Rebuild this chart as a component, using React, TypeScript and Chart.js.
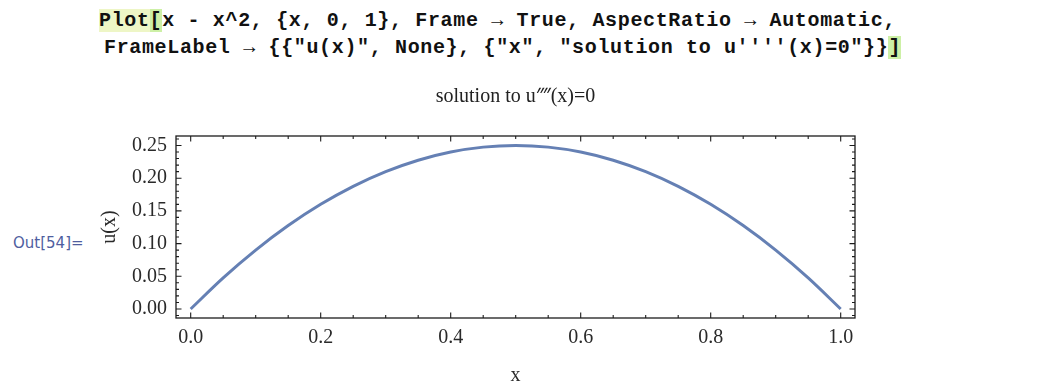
import { useEffect, useRef } from "react";
import { Chart, registerables } from "chart.js";

Chart.register(...registerables);

// Sample points of the plotted curve u(x)
const X_VALUES = [0, 0.05, 0.1, 0.15, 0.2, 0.25, 0.3, 0.35, 0.4, 0.45, 0.5, 0.55, 0.6, 0.65, 0.7, 0.75, 0.8, 0.85, 0.9, 0.95, 1];
const U_VALUES = [0, 0.0475, 0.09, 0.1275, 0.16, 0.1875, 0.21, 0.2275, 0.24, 0.2475, 0.25, 0.2475, 0.24, 0.2275, 0.21, 0.1875, 0.16, 0.1275, 0.09, 0.0475, 0];

// Axis ranges (frame edges)
const X_RANGE = [-0.0226, 1.022];
const Y_RANGE = [-0.0138, 0.2645];

// Frame ticks
const X_MAJOR_TICKS = [0, 0.2, 0.4, 0.6, 0.8, 1];
const X_TICK_LABELS = ["0.0", "0.2", "0.4", "0.6", "0.8", "1.0"];
const X_MINOR_TICKS = [0.05, 0.1, 0.15, 0.25, 0.3, 0.35, 0.45, 0.5, 0.55, 0.65, 0.7, 0.75, 0.85, 0.9, 0.95];
const Y_MAJOR_TICKS = [0, 0.05, 0.1, 0.15, 0.2, 0.25];
const Y_TICK_LABELS = ["0.00", "0.05", "0.10", "0.15", "0.20", "0.25"];
const Y_MINOR_TICKS = [-0.01, 0.01, 0.02, 0.03, 0.04, 0.06, 0.07, 0.08, 0.09, 0.11, 0.12, 0.13, 0.14, 0.16, 0.17, 0.18, 0.19, 0.21, 0.22, 0.23, 0.24, 0.26];

// Labels
const PLOT_TITLE = "solution to u\u2057(x)=0";
const X_LABEL = "x";
const Y_LABEL = "u(x)";
const OUT_LABEL = "Out[54]=";

const SERIF = "'Liberation Serif', 'Times New Roman', serif";
const MONO = "'Liberation Mono', 'Courier New', monospace";

const frameTicksPlugin = {
  id: "frameTicks",
  afterDatasetsDraw(chart: any) {
    const { ctx, chartArea: a, scales } = chart;
    const xs = scales.x;
    const ys = scales.y;
    ctx.save();
    ctx.strokeStyle = "#1c1c1c";
    ctx.lineWidth = 1.3;
    ctx.strokeRect(a.left, a.top, a.right - a.left, a.bottom - a.top);
    ctx.lineWidth = 1.1;
    ctx.beginPath();
    const xTick = (v: number, len: number) => {
      const p = xs.getPixelForValue(v);
      ctx.moveTo(p, a.bottom);
      ctx.lineTo(p, a.bottom - len);
      ctx.moveTo(p, a.top);
      ctx.lineTo(p, a.top + len);
    };
    const yTick = (v: number, len: number) => {
      const p = ys.getPixelForValue(v);
      ctx.moveTo(a.left, p);
      ctx.lineTo(a.left + len, p);
      ctx.moveTo(a.right, p);
      ctx.lineTo(a.right - len, p);
    };
    X_MAJOR_TICKS.forEach((v) => xTick(v, 5.5));
    X_MINOR_TICKS.forEach((v) => xTick(v, 3));
    Y_MAJOR_TICKS.forEach((v) => yTick(v, 5.5));
    Y_MINOR_TICKS.forEach((v) => yTick(v, 3));
    ctx.stroke();
    ctx.restore();
  },
};

function PlotCanvas() {
  const ref = useRef<HTMLCanvasElement | null>(null);

  useEffect(() => {
    if (!ref.current) return;
    const chart = new Chart(ref.current, {
      type: "line",
      data: {
        datasets: [
          {
            data: X_VALUES.map((x, i) => ({ x, y: U_VALUES[i] })),
            borderColor: "#6580b4",
            borderWidth: 3,
            pointRadius: 0,
            cubicInterpolationMode: "monotone",
            fill: false,
          },
        ],
      },
      options: {
        animation: false,
        responsive: false,
        devicePixelRatio: 1,
        layout: { padding: { left: 0, top: 0, right: 183, bottom: 0 } },
        plugins: {
          legend: { display: false },
          tooltip: { enabled: false },
          title: {
            display: true,
            fullSize: false,
            text: PLOT_TITLE,
            color: "#222",
            font: { family: SERIF, size: 20, weight: "normal", lineHeight: 1.2 },
            padding: { top: 85, bottom: 27 },
          },
        },
        scales: {
          x: {
            type: "linear",
            min: X_RANGE[0],
            max: X_RANGE[1],
            afterBuildTicks: (s: any) => {
              s.ticks = X_MAJOR_TICKS.map((value) => ({ value }));
            },
            afterFit: (s: any) => {
              s.height = 64;
            },
            grid: { display: false, drawTicks: false },
            border: { display: false },
            ticks: {
              autoSkip: false,
              maxRotation: 0,
              padding: 10,
              color: "#2a2a2a",
              font: { family: SERIF, size: 20, lineHeight: 1 },
              callback: (_v: any, i: number) => X_TICK_LABELS[i],
            },
            title: {
              display: true,
              text: X_LABEL,
              color: "#2a2a2a",
              font: { family: SERIF, size: 20, lineHeight: 0.6 },
              padding: { top: 0, bottom: 0 },
            },
          },
          y: {
            type: "linear",
            min: Y_RANGE[0],
            max: Y_RANGE[1],
            afterBuildTicks: (s: any) => {
              s.ticks = Y_MAJOR_TICKS.map((value) => ({ value }));
            },
            afterFit: (s: any) => {
              s.width = 176;
            },
            grid: { display: false, drawTicks: false },
            border: { display: false },
            ticks: {
              autoSkip: false,
              padding: 9,
              color: "#2a2a2a",
              font: { family: SERIF, size: 20, lineHeight: 1 },
              callback: (_v: any, i: number) => Y_TICK_LABELS[i],
            },
            title: {
              display: true,
              text: Y_LABEL,
              color: "#2a2a2a",
              font: { family: SERIF, size: 20, lineHeight: 1 },
              padding: { top: 100, bottom: 0 },
            },
          },
        },
      },
      plugins: [frameTicksPlugin],
    } as any);
    return () => chart.destroy();
  }, []);

  return <canvas ref={ref} width={1038} height={382} style={{ position: "absolute", left: 0, top: 0 }} />;
}

const codeLine: React.CSSProperties = {
  position: "absolute",
  fontFamily: MONO,
  fontWeight: "bold",
  fontSize: 20,
  lineHeight: "20px",
  letterSpacing: "0.65px",
  whiteSpace: "pre",
  color: "#111",
};

export default function App() {
  return (
    <div
      style={{
        position: "fixed",
        left: 0,
        top: 0,
        width: 1038,
        height: 382,
        background: "#fff",
        overflow: "hidden",
      }}
    >
      <div style={{ ...codeLine, left: 99, top: 11 }}>
        <span style={{ background: "#eef6c6" }}>Plot</span>
        <span style={{ background: "#cdf0a6" }}>[</span>
        {"x - x^2, {x, 0, 1}, Frame \u2192 True, AspectRatio \u2192 Automatic,"}
      </div>
      <div style={{ ...codeLine, left: 104, top: 38 }}>
        {'FrameLabel \u2192 {{"u(x)", None}, {"x", "solution to u\'\'\'\'(x)=0"}}'}
        <span style={{ background: "#cdf0a6" }}>]</span>
      </div>
      <div
        style={{
          position: "absolute",
          left: 13,
          top: 233,
          fontFamily: "'DejaVu Sans', sans-serif",
          fontSize: 15,
          lineHeight: "20px",
          color: "#4f5e9f",
          whiteSpace: "pre",
        }}
      >
        {OUT_LABEL}
      </div>
      <PlotCanvas />
    </div>
  );
}
